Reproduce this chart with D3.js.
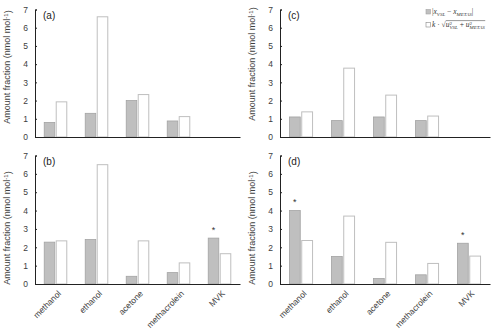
<!DOCTYPE html>
<html>
<head>
<meta charset="utf-8">
<script src="https://cdn.jsdelivr.net/npm/d3@7"></script>
<style>
  body { margin: 0; background: #fff; }
  svg { display: block; font-family: Arial, "Liberation Sans", sans-serif; }
</style>
</head>
<body>
<svg id="chart"></svg>
<script>
// Data
const compounds = ["methanol", "ethanol", "acetone", "methacrolein", "MVK"];
const yTicks = [0, 1, 2, 3, 4, 5, 6, 7];

const diffA = [0.8, 1.3, 2.0, 0.88, null];
const uncA = [1.93, 6.6, 2.33, 1.12, null];
const diffB = [2.28, 2.42, 0.42, 0.62, 2.5];
const uncB = [2.35, 6.5, 2.35, 1.15, 1.65];
const diffC = [1.1, 0.9, 1.1, 0.9, null];
const uncC = [1.38, 3.78, 2.3, 1.15, null];
const diffD = [4.0, 1.5, 0.3, 0.5, 2.22];
const uncD = [2.37, 3.7, 2.27, 1.12, 1.52];

const starsB = [false, false, false, false, true];
const starsD = [true, false, false, false, true];

const width = 500;
const height = 336;
const grayFill = "#bfbfbf";
const grayStroke = "#a3a3a3";
const whiteStroke = "#bfbfbf";
const textColor = "#404040";

const svg = d3.select("#chart")
    .attr("width", width)
    .attr("height", height);

const panels = [
    { label: "(a)", diff: diffA, unc: uncA, stars: null, x: [35, 240], y: [137, 9.5], labelY: 67, xLabels: false },
    { label: "(b)", diff: diffB, unc: uncB, stars: starsB, x: [35, 240], y: [284, 155.5], labelY: 228, xLabels: true },
    { label: "(c)", diff: diffC, unc: uncC, stars: null, x: [280, 490], y: [137, 9.5], labelY: 64, xLabels: false },
    { label: "(d)", diff: diffD, unc: uncD, stars: starsD, x: [280, 490], y: [284, 155.5], labelY: 228, xLabels: true }
];

panels.forEach((p) => {
    const g = svg.append("g");

    const xScale = d3.scaleBand()
        .domain(compounds)
        .range(p.x)
        .paddingInner(0.45)
        .paddingOuter(0.225);

    const xSub = d3.scaleBand()
        .domain(["diff", "unc"])
        .range([0, xScale.bandwidth()])
        .paddingInner(0.12);

    const yScale = d3.scaleLinear()
        .domain([0, 7])
        .range(p.y);

    const rows = compounds.map((c, i) => ({
        name: c, diff: p.diff[i], unc: p.unc[i], star: p.stars ? p.stars[i] : false
    })).filter((d) => d.diff !== null);

    // Bars
    g.selectAll("rect.diff")
        .data(rows)
        .join("rect")
        .attr("class", "diff")
        .attr("x", (d) => xScale(d.name) + xSub("diff"))
        .attr("y", (d) => yScale(d.diff))
        .attr("width", xSub.bandwidth())
        .attr("height", (d) => yScale(0) - yScale(d.diff))
        .attr("fill", grayFill)
        .attr("stroke", grayStroke)
        .attr("stroke-width", 0.8);

    g.selectAll("rect.unc")
        .data(rows)
        .join("rect")
        .attr("class", "unc")
        .attr("x", (d) => xScale(d.name) + xSub("unc"))
        .attr("y", (d) => yScale(d.unc))
        .attr("width", xSub.bandwidth())
        .attr("height", (d) => yScale(0) - yScale(d.unc))
        .attr("fill", "#fff")
        .attr("stroke", whiteStroke)
        .attr("stroke-width", 1);

    // Asterisks above significant differences
    g.selectAll("text.star")
        .data(rows.filter((d) => d.star))
        .join("text")
        .attr("class", "star")
        .attr("x", (d) => xScale(d.name) + xSub("diff") + xSub.bandwidth() / 2)
        .attr("y", (d) => yScale(d.diff + 0.28))
        .attr("text-anchor", "middle")
        .style("font-size", "9px")
        .attr("fill", "#333")
        .text("*");

    // Y axis (ticks pointing inward)
    const yAxis = g.append("g")
        .attr("transform", `translate(${p.x[0]},0)`)
        .call(d3.axisLeft(yScale).tickValues(yTicks).tickSize(-2).tickPadding(7).tickFormat(d3.format("d")));
    yAxis.select(".domain").attr("stroke", "#222").attr("stroke-width", 1);
    yAxis.selectAll(".tick line").attr("stroke", "#222");
    yAxis.selectAll(".tick text")
        .attr("fill", textColor)
        .style("font-size", "8.5px")
        .style("font-family", "Arial, 'Liberation Sans', sans-serif");

    // X axis
    const xAxis = g.append("g")
        .attr("transform", `translate(0,${yScale(0)})`)
        .call(d3.axisBottom(xScale).tickSize(0).tickSizeOuter(0).tickFormat(""));
    xAxis.select(".domain").attr("stroke", "#222").attr("stroke-width", 1.2);

    // Rotated category labels
    if (p.xLabels) {
        g.selectAll("text.cat")
            .data(compounds)
            .join("text")
            .attr("class", "cat")
            .attr("transform", (d) => `translate(${xScale(d) + xScale.bandwidth() / 2 + 4},${yScale(0) + 8}) rotate(-45)`)
            .attr("text-anchor", "end")
            .attr("dy", "0.35em")
            .style("font-size", "8.5px")
            .attr("fill", textColor)
            .text((d) => d);
    }

    // Panel label
    g.append("text")
        .attr("x", p.x[0] + 8)
        .attr("y", yScale(7) + 9)
        .style("font-size", "10px")
        .attr("fill", "#222")
        .text(p.label);

    // Y axis title
    g.append("text")
        .attr("transform", `translate(${p.x[0] - 25},${p.labelY}) rotate(-90)`)
        .attr("text-anchor", "middle")
        .style("font-size", "9px")
        .attr("fill", textColor)
        .call((t) => {
            t.append("tspan").text("Amount fraction (nmol mol");
            t.append("tspan").attr("dy", "-0.4em").style("font-size", "6px").text("-1");
            t.append("tspan").attr("dy", "0.4em").text(")");
        });
});

// Legend
const legend = svg.append("g")
    .attr("transform", "translate(426,8)")
    .style("font-family", "'Liberation Serif', 'DejaVu Serif', serif")
    .style("font-size", "7.5px")
    .attr("fill", "#333");

legend.append("rect")
    .attr("x", 0).attr("y", 1.5)
    .attr("width", 4.5).attr("height", 4.5)
    .attr("fill", grayFill).attr("stroke", grayStroke).attr("stroke-width", 0.6);

legend.append("text")
    .attr("x", 6).attr("y", 6)
    .call((t) => {
        t.append("tspan").text("|");
        t.append("tspan").style("font-style", "italic").text("x");
        t.append("tspan").attr("dy", 1.5).style("font-size", "5px").style("font-style", "italic").text("VSL");
        t.append("tspan").attr("dy", -1.5).text(" \u2212  ");
        t.append("tspan").style("font-style", "italic").text("x");
        t.append("tspan").attr("dy", 1.5).style("font-size", "5px").style("font-style", "italic").text("METAS");
        t.append("tspan").attr("dy", -1.5).text("|");
    });

legend.append("rect")
    .attr("x", 0).attr("y", 14.5)
    .attr("width", 4.5).attr("height", 4.5)
    .attr("fill", "#fff").attr("stroke", "#888").attr("stroke-width", 0.6);

const rootText = legend.append("text")
    .attr("x", 6).attr("y", 19)
    .call((t) => {
        t.append("tspan").style("font-style", "italic").text("k");
        t.append("tspan").text(" \u00b7 \u221a");
        t.append("tspan").attr("class", "radicand").style("font-style", "italic").text("u");
        t.append("tspan").attr("dy", -2.5).style("font-size", "5px").text("2");
        t.append("tspan").attr("dx", -2.5).attr("dy", 4).style("font-size", "5px").style("font-style", "italic").text("VSL");
        t.append("tspan").attr("dy", -1.5).text(" + ");
        t.append("tspan").style("font-style", "italic").text("u");
        t.append("tspan").attr("dy", -2.5).style("font-size", "5px").text("2");
        t.append("tspan").attr("dx", -2.5).attr("dy", 4).style("font-size", "5px").style("font-style", "italic").text("METAS");
    });

// Vinculum of the square root, spanning the radicand
const bb = rootText.node().getBBox();
const radStart = rootText.select(".radicand").node().getStartPositionOfChar(0).x;
legend.append("line")
    .attr("x1", radStart)
    .attr("x2", bb.x + bb.width)
    .attr("y1", bb.y + 0.6)
    .attr("y2", bb.y + 0.6)
    .attr("stroke", "#333")
    .attr("stroke-width", 0.5);
</script>
</body>
</html>
